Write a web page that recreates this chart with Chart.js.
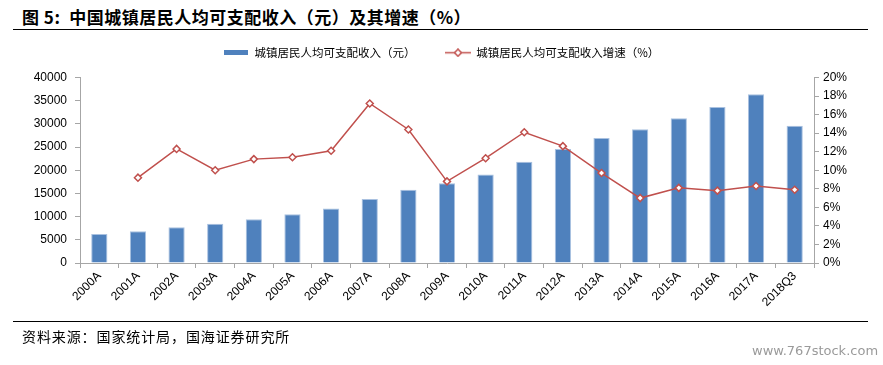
<!DOCTYPE html>
<html>
<head>
<meta charset="utf-8">
<script src="https://cdn.jsdelivr.net/npm/chart.js@4/dist/chart.umd.min.js"></script>
<style>
  html, body { margin: 0; padding: 0; background: #fff; }
  #wrap { position: relative; width: 883px; height: 365px; overflow: hidden; }
  #chart { position: absolute; left: 0; top: 0; }
  .title { position: absolute; left: 22px; top: 4px; font: bold 17px 'Noto Sans CJK SC', sans-serif; letter-spacing: 0.5px; color: #000; white-space: nowrap; }
  .rule { position: absolute; left: 13px; width: 855px; height: 0; border-top: 1.5px solid #000; }
  .source { position: absolute; left: 22px; top: 326px; font: 14px 'Noto Sans CJK SC', sans-serif; letter-spacing: 0.9px; color: #000; white-space: nowrap; }
  .mark { position: absolute; left: 752px; top: 343px; font: 13px 'DejaVu Sans', sans-serif; color: #9a9a9a; white-space: nowrap; }
</style>
</head>
<body>
<div id="wrap">
  <div class="title">图 5:&nbsp; 中国城镇居民人均可支配收入（元）及其增速（%）</div>
  <div class="rule" style="top:29px"></div>
  <canvas id="chart" width="883" height="365"></canvas>
  <div class="rule" style="top:321px"></div>
  <div class="source">资料来源：国家统计局，国海证券研究所</div>
  <div class="mark">www.767stock.com</div>
</div>
<script>
const LABELS = ['2000A', '2001A', '2002A', '2003A', '2004A', '2005A', '2006A', '2007A', '2008A', '2009A',
    '2010A', '2011A', '2012A', '2013A', '2014A', '2015A', '2016A', '2017A', '2018Q3'];

const INCOME = [6280, 6860, 7703, 8472, 9422, 10493, 11759, 13786, 15781, 17175,
    19109, 21810, 24565, 26955, 28844, 31195, 33616, 36396, 29599];

const GROWTH = [null, 9.2, 12.3, 10.0, 11.2, 11.4, 12.1, 17.2, 14.4, 8.8,
    11.3, 14.1, 12.6, 9.7, 7.0, 8.1, 7.8, 8.3, 7.9];

const BLUE = '#4F81BD';
const RED = '#C0504D';
const AXIS = '#A6A6A6';

// legend swatches drawn the Excel way
const barSwatch = document.createElement('canvas');
barSwatch.width = 24; barSwatch.height = 5;
barSwatch.getContext('2d').fillStyle = BLUE;
barSwatch.getContext('2d').fillRect(0, 0, 24, 5);

const lineSwatch = document.createElement('canvas');
lineSwatch.width = 26; lineSwatch.height = 9;
{
    const c = lineSwatch.getContext('2d');
    c.strokeStyle = RED; c.lineWidth = 1.5;
    c.beginPath(); c.moveTo(0, 4.5); c.lineTo(26, 4.5); c.stroke();
    c.fillStyle = '#fff';
    c.beginPath(); c.moveTo(13, 1); c.lineTo(16.5, 4.5); c.lineTo(13, 8); c.lineTo(9.5, 4.5); c.closePath();
    c.fill(); c.stroke();
}

// extra space under the legend without moving it
const legendGap = {
    id: 'legendGap',
    beforeInit(chart) {
        const fit = chart.legend.fit;
        chart.legend.fit = function () {
            fit.call(this);
            this.height += 9;
        };
    }
};

Chart.defaults.font.family = "'Liberation Sans', 'Noto Sans CJK SC', sans-serif";
Chart.defaults.color = '#000';

new Chart(document.getElementById('chart'), {
    data: {
        labels: LABELS,
        datasets: [
            {
                type: 'bar',
                label: '城镇居民人均可支配收入（元）',
                data: INCOME,
                backgroundColor: BLUE,
                borderColor: '#A9C1E0',
                borderWidth: { left: 1, right: 1, top: 1, bottom: 0 },
                barPercentage: 0.42,
                categoryPercentage: 1,
                yAxisID: 'y',
                order: 2,
            },
            {
                type: 'line',
                label: '城镇居民人均可支配收入增速（%）',
                data: GROWTH,
                borderColor: RED,
                borderWidth: 1.5,
                pointStyle: 'rectRot',
                pointRadius: 3.5,
                pointBackgroundColor: '#fff',
                pointBorderColor: RED,
                pointBorderWidth: 1.5,
                yAxisID: 'y1',
                order: 1,
            },
        ]
    },
    plugins: [legendGap],
    options: {
        responsive: false,
        animation: false,
        layout: { padding: { top: 17, left: 0, right: 0, bottom: 0 } },
        plugins: {
            tooltip: { enabled: false },
            legend: {
                position: 'top',
                labels: {
                    usePointStyle: true,
                    pointStyleWidth: 25,
                    padding: 30,
                    color: '#333',
                    font: { size: 11.5, family: "'Noto Sans CJK SC', sans-serif" },
                    generateLabels: () => [
                        { text: '城镇居民人均可支配收入（元）', pointStyle: barSwatch, datasetIndex: 0, lineWidth: 0 },
                        { text: '城镇居民人均可支配收入增速（%）', pointStyle: lineSwatch, datasetIndex: 1, lineWidth: 0 },
                    ],
                },
            },
        },
        scales: {
            x: {
                grid: { display: true, drawOnChartArea: false, color: AXIS, tickLength: 5 },
                border: { color: AXIS },
                ticks: { minRotation: 45, maxRotation: 45, font: { size: 12 }, padding: 1 },
                afterFit: s => { s.height = 102; },
            },
            y: {
                position: 'left',
                min: 0, max: 40000,
                grid: { display: true, drawOnChartArea: false, color: AXIS, tickLength: 5 },
                border: { color: AXIS },
                ticks: { stepSize: 5000, font: { size: 12 }, padding: 8, callback: v => String(v) },
                afterFit: s => { s.width = 80; },
            },
            y1: {
                position: 'right',
                min: 0, max: 20,
                grid: { display: true, drawOnChartArea: false, color: AXIS, tickLength: 5 },
                border: { color: AXIS },
                ticks: { stepSize: 2, font: { size: 12 }, padding: 4, callback: v => v + '%' },
                afterFit: s => { s.width = 69; },
            },
        },
    },
});
</script>
</body>
</html>
